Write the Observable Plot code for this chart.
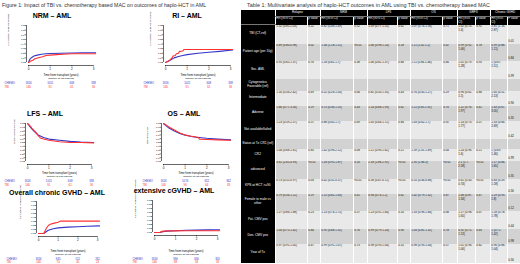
<!DOCTYPE html>
<html><head><meta charset="utf-8">
<script src="https://cdn.jsdelivr.net/npm/d3@7"></script>
<script src="https://cdn.jsdelivr.net/npm/@observablehq/plot@0.6"></script>
<style>
body{margin:0;width:520px;height:264px;position:relative;overflow:hidden;background:#fff;font-family:"Liberation Sans",Arial,sans-serif;}
.cap{position:absolute;white-space:nowrap;color:#333;}
.ptitle{position:absolute;font-weight:bold;font-size:7px;white-space:nowrap;transform:translateX(-50%);color:#000;line-height:8px;}
.pan{position:absolute;}
table.mv{position:absolute;left:241px;top:10px;width:279px;table-layout:fixed;border-collapse:collapse;font-size:2.9px;line-height:3.4px;color:#111;}
table.mv td, table.mv th{padding:0.6px 0.8px;overflow:hidden;vertical-align:top;text-align:left;border-left:0.8px solid #fff;font-weight:normal;}
table.mv th{background:#000;color:#fff;}
table.mv tr.h1 th{text-align:center;border-bottom:0.6px solid #777;font-size:3px;}
table.mv td.lab{background:#000;color:#fff;text-align:center;vertical-align:middle;border-left:none;font-size:3.2px;line-height:3.8px;}
table.mv td.last{vertical-align:bottom;}
</style></head><body>
<script>
// ---------- chart data ----------
const riskTimes = [0, 1, 2, 3];
const nrmChemo = [[0,0],[0.03,0.04],[0.08,0.08],[0.15,0.11],[0.25,0.14],[0.4,0.16],[0.6,0.18],[0.8,0.19],[1,0.195],[1.5,0.2],[2,0.205],[2.5,0.21],[3.1,0.21]];
const nrmTBI   = [[0,0],[0.05,0.01],[0.1,0.03],[0.2,0.05],[0.3,0.08],[0.5,0.11],[0.7,0.13],[0.8,0.15],[1,0.16],[1.3,0.17],[1.6,0.18],[2,0.19],[2.5,0.19],[3.1,0.19]];
const riChemo  = [[0,0],[0.1,0.02],[0.25,0.06],[0.4,0.1],[0.6,0.13],[0.8,0.15],[1,0.17],[1.5,0.2],[2,0.22],[2.5,0.24],[3.1,0.27]];
const riTBI    = [[0,0],[0.1,0.02],[0.2,0.05],[0.3,0.1],[0.35,0.14],[0.45,0.15],[0.5,0.19],[0.6,0.2],[0.65,0.24],[0.8,0.25],[0.85,0.28],[3.1,0.28]];
const lfsChemo = [[0,1],[0.1,0.93],[0.2,0.86],[0.3,0.8],[0.4,0.75],[0.5,0.7],[0.75,0.63],[1,0.59],[1.5,0.56],[2,0.53],[2.5,0.51],[3.1,0.5]];
const lfsTBI   = [[0,1],[0.1,0.95],[0.2,0.88],[0.3,0.82],[0.4,0.76],[0.5,0.68],[0.6,0.62],[0.75,0.59],[1,0.56],[1.5,0.52],[2,0.5],[2.5,0.5],[3.1,0.49]];
const osChemo  = [[0,1],[0.1,0.95],[0.25,0.88],[0.5,0.8],[0.75,0.74],[1,0.69],[1.5,0.64],[2,0.61],[2.5,0.59],[3.1,0.57]];
const osTBI    = [[0,1],[0.1,0.97],[0.25,0.91],[0.5,0.83],[0.75,0.75],[1,0.7],[1.3,0.66],[1.6,0.64],[1.65,0.59],[2,0.58],[2.5,0.57],[3.1,0.56]];
const cgvhdChemo = [[0,0],[0.27,0],[0.35,0.03],[0.5,0.08],[0.75,0.12],[1,0.14],[1.5,0.16],[2,0.17],[2.5,0.18],[3.1,0.19]];
const cgvhdTBI   = [[0,0],[0.27,0],[0.33,0.06],[0.4,0.13],[0.5,0.2],[0.6,0.23],[0.8,0.26],[1,0.28],[1.1,0.31],[2,0.31],[3.1,0.31]];
const extChemo = [[0,0],[0.27,0],[0.4,0.02],[0.6,0.035],[1,0.045],[1.5,0.055],[2,0.06],[2.5,0.065],[3.1,0.07]];
const extTBI   = [[0,0],[0.27,0],[0.3,0.02],[0.4,0.035],[0.6,0.04],[1,0.04],[1.5,0.045],[3.1,0.045]];
const riskChemo = [1616, 1011, 608, 338];
const riskTBI = [146, 91, 61, 36];
const osRiskChemo = [1616, 1074, 652, 362];
const osRiskTBI = [146, 96, 64, 38];
const cgRiskChemo = [1616, 845, 512, 261];
const cgRiskTBI = [146, 70, 45, 24];
const extRiskChemo = [1616, 990, 630, 305];
const extRiskTBI = [146, 88, 58, 33];

// ---------- table data ----------
const groups = ["Relapse", "NRM", "LFS", "OS", "GRFS", "Chronic GVHD"];
const rowLabels = ["TBI (CT-ref)", "Patient age (per 10y)", "Sec. AML", "Cytogenetics Favorable (ref)", "Intermediate", "Adverse", "Not available/failed", "Status at Tx CR1 (ref)", "CR2", "advanced", "KPS at HCT >=90", "Female to male vs other", "Pat. CMV pos", "Don. CMV pos", "Year of Tx"];
const relapseHR = ["1.32 (0.85-2.03)","0.89 (0.80-0.98)","0.95 (0.65-1.37)","","1.16 (0.56-2.42)","1.66 (0.77-3.56)","1.23 (0.59-2.57)","","1.04 (0.68-1.61)","3.61 (2.65-4.93)","0.73 (0.55-0.97)","0.79 (0.56-1.12)","1.27 (0.86-1.88)","1.03 (0.75-1.42)","0.97 (0.91-1.05)"];
const relapseP  = ["0.22","0.02","0.76","","0.69","0.19","0.57","","0.85","<0.01","0.03","0.19","0.23","0.84","0.47"];
const nrmHR = ["0.82 (0.46-1.49)","1.34 (1.18-1.51)","1.18 (0.82-1.7)","","0.52 (0.26-1.03)","0.75 (0.36-1.55)","0.88 (0.45-1.7)","","1.42 (0.96-2.12)","1.33 (0.95-1.87)","0.42 (0.31-0.57)","1.15 (0.82-1.63)","1.13 (0.74-1.75)","0.95 (0.68-1.32)","0.99 (0.91-1.07)"];
const nrmP  = ["0.52","<0.01","0.38","","0.06","0.43","0.69","","0.08","0.10","<0.01","0.41","0.57","0.76","0.73"];
const lfsHR = ["1.09 (0.77-1.55)","1.06 (0.98-1.14)","1.06 (0.82-1.37)","","0.82 (0.50-1.35)","1.14 (0.68-1.93)","1.05 (0.64-1.72)","","1.21 (0.90-1.62)","2.33 (1.86-2.92)","0.58 (0.47-0.72)","0.94 (0.74-1.2)","1.23 (0.92-1.64)","0.99 (0.79-1.24)","0.98 (0.93-1.04)"];
const lfsP  = ["0.62","0.18","0.68","","0.43","0.62","0.84","","0.21","<0.01","<0.01","0.62","0.16","0.90","0.55"];
const osHR = ["1.07 (0.74-1.56)","1.11 (1.02-1.2)","1.11 (0.84-1.46)","","0.76 (0.45-1.27)","1.11 (0.65-1.92)","1.03 (0.62-1.7)","","1.39 (1.01-1.89)","2.35 (1.84-3)","0.55 (0.44-0.68)","1.02 (0.79-1.32)","1.33 (0.96-1.84)","1.03 (0.81-1.32)","0.98 (0.93-1.04)"];
const osP  = ["0.71","0.02","0.46","","0.29","0.70","0.92","","0.04","<0.01","<0.01","0.87","0.08","0.78","0.57"];
const grfsHR = ["1.02 (0.74-1.4)","0.99 (0.92-1.06)","1.01 (0.79-1.28)","","0.96 (0.61-1.5)","1.22 (0.76-1.97)","1.14 (0.73-1.77)","","1.24 (0.96-1.6)","2.1 (1.7-2.58)","0.61 (0.50-0.74)","1.08 (0.87-1.34)","1.27 (0.98-1.65)","0.92 (0.75-1.13)","1.01 (0.96-1.06)"];
const grfsP  = ["0.92","0.78","0.95","","0.86","0.41","0.57","","0.11","<0.01","<0.01","0.47","0.07","0.43","0.82"];
const cgvhdHR = ["1.81 (1.16-2.87)","0.99 (0.88-1.11)","1 (0.67-1.51)","","1.05 (0.51-2.13)","1.43 (0.67-3.05)","1.33 (0.66-2.69)","","1 (0.69-1.46)","1.17 (0.84-1.65)","0.83 (0.59-1.18)","1.29 (0.93-1.8)","1.18 (0.78-1.78)","1 (0.71-1.42)","0.96 (0.88-1.04)"];
const cgvhdP  = ["0.01","0.84","0.99","","0.90","0.35","0.42","","0.99","0.35","0.30","0.12","0.44","0.98","0.30"];

// ---------- drawing ----------
const blue = "#3535c8", red = "#ff3030";
function addDiv(cls, text, left, top, extra) {
  const d = document.createElement("div");
  d.className = cls; d.textContent = text;
  d.style.left = left + "px"; d.style.top = top + "px";
  if (extra) Object.assign(d.style, extra);
  document.body.appendChild(d);
}
addDiv("cap", "Figure 1: Impact of TBI vs. chemotherapy based MAC on outcomes of haplo-HCT in AML", 2, 2, {fontSize: "5.2px"});
addDiv("cap", "Table 1: Multivariate analysis of haplo-HCT outcomes in AML using TBI vs. chemotherapy based MAC", 247, 2, {fontSize: "5.4px"});

function drawPanel(c) {
  const insetL = 2, insetB = 3, xMaxD = 3.2;
  const ppy = (c.x3 - c.x0) / 3;
  const xEnd = c.x0 + ppy * xMaxD;
  const y0 = () => 0;
  const svg = Plot.plot({
    width: c.w, height: c.h,
    marginLeft: c.x0 - insetL - c.left,
    marginRight: c.left + c.w - xEnd,
    marginTop: c.yTop - c.top,
    marginBottom: c.top + c.h - c.yBottom - insetB,
    insetLeft: insetL, insetBottom: insetB, insetTop: 0, insetRight: 0,
    x: {domain: [0, xMaxD]},
    y: {domain: [0, c.yMax]},
    style: {fontFamily: "Liberation Sans, Arial, sans-serif", fontSize: "3px", background: "transparent", overflow: "visible", color: "#000"},
    marks: [
      Plot.ruleX([0], {y1: 0, y2: c.yMax, dx: -insetL, stroke: "#000", strokeWidth: 0.6}),
      Plot.ruleY([0], {x1: 0, x2: 3, dy: insetB, stroke: "#000", strokeWidth: 0.6}),
      Plot.axisY({ticks: d3.range(0, c.yMax + 1e-9, 0.1), tickFormat: d3.format(".1f"), tickSize: 1.5, tickPadding: 0.6, label: null, fontSize: 2.5, strokeWidth: 0.5}),
      Plot.axisX({ticks: riskTimes, tickFormat: d3.format("d"), tickSize: 1.5, tickPadding: 1, label: null, fontSize: 3, strokeWidth: 0.5}),
      Plot.line(c.chemo, {x: d => d[0], y: d => d[1], stroke: blue, strokeWidth: 1.1}),
      Plot.line(c.tbi, {x: d => d[0], y: d => d[1], stroke: red, strokeWidth: 1.1}),
      Plot.text([c.ylabel], {text: d => d, frameAnchor: "left", dx: c.ylabX - (c.x0 - insetL), rotate: -90, fontSize: 2.4}),
      Plot.text(["Time from transplant (years)"], {text: d => d, x: () => 1.5, y: y0, dy: c.timeY - c.yBottom, fontSize: 2.8}),
      Plot.text(["Number at risk patients"], {text: d => d, x: () => 1.5, y: y0, dy: c.timeY + 3 - c.yBottom, fontSize: 2.5}),
      Plot.text(riskTimes, {x: d => d, y: y0, text: (d, i) => String(c.rChemo[i]), dy: c.blueY - c.yBottom, fill: blue, fontSize: 2.8}),
      Plot.text(riskTimes, {x: d => d, y: y0, text: (d, i) => String(c.rTBI[i]), dy: c.blueY + 3.3 - c.yBottom, fill: red, fontSize: 2.8}),
      Plot.text(["CHEMO"], {text: d => d, x: () => 0, y: y0, dx: c.labX - c.x0, dy: c.blueY - c.yBottom, textAnchor: "start", fill: blue, fontSize: 2.8}),
      Plot.text(["TBI"], {text: d => d, x: () => 0, y: y0, dx: c.labX - c.x0, dy: c.blueY + 3.3 - c.yBottom, textAnchor: "start", fill: red, fontSize: 2.8})
    ]
  });
  const wrap = document.createElement("div");
  wrap.className = "pan";
  wrap.style.left = c.left + "px"; wrap.style.top = c.top + "px";
  wrap.appendChild(svg);
  document.body.appendChild(wrap);
  addDiv("ptitle", c.title, c.titleX, c.titleY - 4);
}

const panels = [
  {title: "NRM \u2013 AML", titleX: 52, titleY: 16, left: 0, top: 20, w: 120, h: 70, x0: 28, x3: 93, yTop: 25, yBottom: 62, yMax: 0.8, timeY: 75, blueY: 83, labX: 4, ylabX: 8, ylabel: "Cumulative incidence of NRM", chemo: nrmChemo, tbi: nrmTBI, rChemo: riskChemo, rTBI: riskTBI},
  {title: "RI \u2013 AML", titleX: 187, titleY: 16, left: 135, top: 20, w: 120, h: 70, x0: 165, x3: 230, yTop: 25, yBottom: 62, yMax: 0.8, timeY: 75, blueY: 83, labX: 143, ylabX: 150, ylabel: "Cumulative incidence of relapse", chemo: riChemo, tbi: riTBI, rChemo: riskChemo, rTBI: riskTBI},
  {title: "LFS \u2013 AML", titleX: 45, titleY: 114, left: 0, top: 118, w: 120, h: 70, x0: 27, x3: 91, yTop: 123, yBottom: 161, yMax: 1, timeY: 173, blueY: 181, labX: 4, ylabX: 14, ylabel: "Leukemia-free Survival", chemo: lfsChemo, tbi: lfsTBI, rChemo: riskChemo, rTBI: riskTBI},
  {title: "OS \u2013 AML", titleX: 184, titleY: 114, left: 135, top: 118, w: 120, h: 70, x0: 163, x3: 228, yTop: 123, yBottom: 161, yMax: 1, timeY: 173, blueY: 181, labX: 142, ylabX: 147, ylabel: "Overall Survival", chemo: osChemo, tbi: osTBI, rChemo: osRiskChemo, rTBI: osRiskTBI},
  {title: "Overall chronic GVHD \u2013 AML", titleX: 57, titleY: 193, left: 0, top: 196, w: 120, h: 68, x0: 38, x3: 97, yTop: 201, yBottom: 233, yMax: 0.8, timeY: 251, blueY: 258.5, labX: 6, ylabX: 20, ylabel: "Cumulative incidence of cGVHD", chemo: cgvhdChemo, tbi: cgvhdTBI, rChemo: cgRiskChemo, rTBI: cgRiskTBI},
  {title: "extensive cGVHD \u2013 AML", titleX: 174, titleY: 191, left: 125, top: 196, w: 125, h: 68, x0: 154, x3: 217, yTop: 200, yBottom: 232, yMax: 0.8, timeY: 251, blueY: 258.5, labX: 132, ylabX: 135, ylabel: "Cumulative incidence of ext. cGVHD", chemo: extChemo, tbi: extTBI, rChemo: extRiskChemo, rTBI: extRiskTBI}
];
panels.forEach(drawPanel);

// ---------- table ----------
const colW = [34, 32, 13, 33, 14, 30, 13, 32, 15, 18, 15, 17, 13];
const rowPx = [19, 17, 18, 12, 15, 15, 18, 10, 12, 18, 15, 17, 18, 15, 19];
const hrCols = [relapseHR, nrmHR, lfsHR, osHR, grfsHR, cgvhdHR];
const pCols = [relapseP, nrmP, lfsP, osP, grfsP, cgvhdP];
const brk = s => s.replace(/-/g, "-\u200B");
const table = document.createElement("table");
table.className = "mv";
let html = "<colgroup>" + colW.map(w => `<col style="width:${w}px">`).join("") + "</colgroup>";
html += `<tr class="h1" style="height:6px"><th rowspan="2" style="border-left:none"></th>` + groups.map(g => `<th colspan="2">${g}</th>`).join("") + "</tr>";
html += `<tr class="h2" style="height:8px">` + groups.map((g, i) => `<th>HR (95% CI)</th><th>${i === groups.length - 1 ? "P value" : "p value"}</th>`).join("") + "</tr>";
rowLabels.forEach((lab, r) => {
  const bg = r % 2 === 0 ? "#e9e9e9" : "#d2d2d2";
  html += `<tr style="height:${rowPx[r]}px;background:${bg}"><td class="lab">${lab.replace(/>/g, "&gt;")}</td>`;
  hrCols.forEach((col, k) => {
    html += `<td>${brk(col[r])}</td><td${k === hrCols.length - 1 ? ' class="last"' : ""}>${pCols[k][r].replace(/</g, "&lt;")}</td>`;
  });
  html += "</tr>";
});
table.innerHTML = html;
document.body.appendChild(table);
</script>
</body></html>
